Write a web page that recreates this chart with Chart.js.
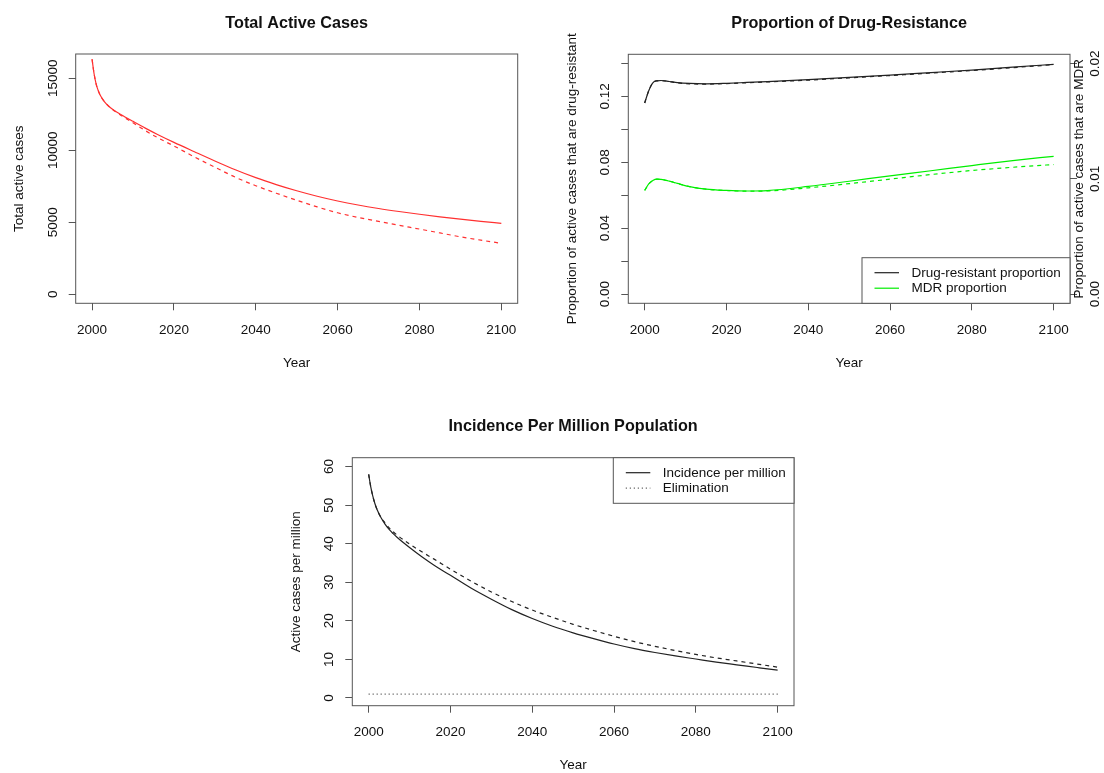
<!DOCTYPE html>
<html>
<head>
<meta charset="utf-8">
<title>TB projections</title>
<script src="https://cdn.jsdelivr.net/npm/chart.js@4/dist/chart.umd.min.js"></script>
<style>
  html, body { margin: 0; padding: 0; background: #ffffff; }
  #wrap { position: relative; width: 1104px; height: 773px; overflow: hidden; background: #fff; }
  canvas { position: absolute; }
</style>
</head>
<body>
<div id="wrap">
  <canvas id="cases" width="552" height="386" style="left:0px;top:0px"></canvas>
  <canvas id="prop" width="552" height="386" style="left:552px;top:0px"></canvas>
  <canvas id="incid" width="552" height="387" style="left:276px;top:386px"></canvas>
</div>
<script>
// ---- shared x axis ----
const yearTicks = [2000, 2020, 2040, 2060, 2080, 2100];

// ---- Total active cases (solid = baseline, dashed = alternative scenario) ----
const yearsCases = [2000, 2000.5, 2001, 2001.5, 2002, 2003, 2004, 2005, 2006, 2007, 2010, 2013, 2016, 2020, 2025, 2030, 2035,
                    2040, 2045, 2050, 2055, 2060, 2065, 2070, 2075, 2080, 2085, 2090, 2095, 2100];
const casesBase = [16320, 15300, 14600, 14150, 13820, 13380, 13080, 12850, 12660, 12490, 12010, 11540, 11100, 10550, 9900, 9260, 8650,
                   8100, 7620, 7190, 6810, 6480, 6200, 5960, 5750, 5560, 5380, 5220, 5070, 4930];
const casesAlt  = [16320, 15300, 14600, 14150, 13820, 13380, 13080, 12840, 12630, 12440, 11910, 11370, 10880, 10300, 9540, 8830, 8130,
                   7540, 7020, 6530, 6070, 5660, 5340, 5060, 4790, 4530, 4260, 3990, 3760, 3540];
const casesTicks = [0, 5000, 10000, 15000];
const casesTickLabels = ['0', '5000', '10000', '15000'];

// ---- Drug resistance proportions ----
const yearsProp = [2000, 2001, 2002, 2003, 2004, 2006, 2008, 2011, 2015, 2020, 2025, 2030,
                   2040, 2050, 2060, 2070, 2080, 2090, 2100];
const drBase  = [0.1160, 0.1235, 0.1283, 0.1295, 0.1297, 0.1291, 0.1284, 0.1279, 0.1277, 0.1280, 0.1285, 0.1290,
                 0.1302, 0.1316, 0.1330, 0.1345, 0.1360, 0.1378, 0.1395];
const drAlt   = [0.1160, 0.1235, 0.1283, 0.1295, 0.1297, 0.1291, 0.1283, 0.1277, 0.1275, 0.1278, 0.1283, 0.1288,
                 0.1299, 0.1313, 0.1327, 0.1342, 0.1357, 0.1375, 0.1393];
const mdrBase = [0.00899, 0.00955, 0.00985, 0.00997, 0.00995, 0.00980, 0.00960, 0.00932, 0.00910, 0.00899, 0.00894, 0.00898,
                 0.00934, 0.00979, 0.01026, 0.01070, 0.01115, 0.01158, 0.01195];
const mdrAlt  = [0.00899, 0.00955, 0.00985, 0.00997, 0.00995, 0.00980, 0.00960, 0.00932, 0.00910, 0.00899, 0.00893, 0.00895,
                 0.00922, 0.00958, 0.00997, 0.01037, 0.01072, 0.01100, 0.01124];
const drTicks = [0, 0.02, 0.04, 0.06, 0.08, 0.10, 0.12, 0.14];
const drTickLabels = ['0.00', '', '0.04', '', '0.08', '', '0.12', ''];
const mdrTicks = [0, 0.01, 0.02];
const mdrTickLabels = ['0.00', '0.01', '0.02'];

// ---- Incidence per million ----
const yearsInc = [2000, 2000.5, 2001, 2001.5, 2002, 2003, 2004, 2005, 2006, 2007, 2010, 2013, 2016, 2020, 2025, 2030, 2035,
                  2040, 2045, 2050, 2055, 2060, 2065, 2070, 2075, 2080, 2085, 2090, 2095, 2100];
const incBase = [58.0, 54.8, 52.4, 50.5, 49.0, 46.8, 45.1, 43.7, 42.6, 41.6, 39.0, 36.6, 34.4, 31.8, 28.5, 25.6, 22.9,
                 20.6, 18.6, 16.9, 15.4, 14.0, 12.8, 11.8, 10.9, 10.1, 9.3, 8.6, 7.9, 7.2];
const incAlt  = [58.0, 54.8, 52.4, 50.5, 49.0, 46.8, 45.4, 44.1, 43.1, 42.2, 39.9, 37.9, 36.0, 33.4, 30.3, 27.5, 25.0,
                 22.8, 20.9, 19.1, 17.5, 16.0, 14.6, 13.4, 12.3, 11.3, 10.4, 9.6, 8.8, 8.0];
const elimYears = [2000, 2100];
const elimLevel = [1, 1];
const incTicks = [0, 10, 20, 30, 40, 50, 60];
const incTickLabels = ['0', '10', '20', '30', '40', '50', '60'];

// ---- styling ----
const FONT = '"Liberation Sans", Arial, Helvetica, sans-serif';
const TEXT = '#111111';
const FRAME = '#555555';
const DASH = [4, 4];
const DOT = [1, 3];

function pts(xs, ys) { return xs.map((x, i) => ({ x: x, y: ys[i] })); }

function line(label, xs, ys, color, dash, axis) {
  return {
    label: label,
    data: pts(xs, ys),
    borderColor: color,
    borderWidth: 1.2,
    borderDash: dash || [],
    pointRadius: 0,
    fill: false,
    cubicInterpolationMode: 'monotone',
    yAxisID: axis || 'y'
  };
}

function fixedTicks(values) {
  return function (scale) { scale.ticks = values.map(v => ({ value: v })); };
}

function tickGrid() {
  return { display: true, drawOnChartArea: false, drawTicks: true, tickLength: 7, color: FRAME, lineWidth: 1 };
}

function rotText(ctx, text, x, y) {
  ctx.save();
  ctx.translate(x, y);
  ctx.rotate(-Math.PI / 2);
  ctx.textAlign = 'center';
  ctx.textBaseline = 'alphabetic';
  ctx.fillText(text, 0, 0);
  ctx.restore();
}

// Base-graphics look: framed plot region, rotated y labels, boxed legend
const basePlot = {
  id: 'basePlot',
  afterDraw(chart, args, o) {
    const ctx = chart.ctx;
    const a = chart.chartArea;
    const cx = (a.left + a.right) / 2;
    const cy = (a.top + a.bottom) / 2;
    ctx.save();
    ctx.strokeStyle = FRAME;
    ctx.lineWidth = 1;
    ctx.setLineDash([]);
    ctx.strokeRect(a.left, a.top, a.right - a.left, a.bottom - a.top);

    ctx.fillStyle = TEXT;
    ctx.font = 'bold 16.2px ' + FONT;
    ctx.textAlign = 'center';
    ctx.textBaseline = 'alphabetic';
    ctx.fillText(o.title, cx, a.top - 26.5);

    ctx.font = '13.5px ' + FONT;
    const xs = chart.scales.x;
    xs.ticks.forEach(t => ctx.fillText(String(t.value), xs.getPixelForValue(t.value), a.bottom + 30.5));
    ctx.fillText(o.xTitle, cx, a.bottom + 63.7);

    const ys = chart.scales.y;
    ys.ticks.forEach((t, i) => {
      const lab = o.yLabels[i];
      if (lab) rotText(ctx, lab, a.left - 19, ys.getPixelForValue(t.value));
    });
    rotText(ctx, o.yTitle, a.left - 52.3, cy);

    if (o.y2Labels) {
      const y2 = chart.scales.y2;
      y2.ticks.forEach((t, i) => {
        const lab = o.y2Labels[i];
        if (lab) rotText(ctx, lab, a.right + 29, y2.getPixelForValue(t.value));
      });
      rotText(ctx, o.y2Title, a.right + 13, cy);
    }

    if (o.legend) {
      const L = o.legend;
      const x0 = a.right - L.width;
      const y0 = L.corner === 'top' ? a.top : a.bottom - L.height;
      ctx.fillStyle = '#ffffff';
      ctx.fillRect(x0, y0, L.width, L.height);
      ctx.strokeStyle = FRAME;
      ctx.strokeRect(x0, y0, L.width, L.height);
      L.items.forEach((idx, k) => {
        const ds = chart.data.datasets[idx];
        const yy = y0 + 15 + k * 15.5;
        ctx.save();
        ctx.strokeStyle = ds.borderColor;
        ctx.lineWidth = 1.2;
        ctx.setLineDash(ds.borderDash || []);
        ctx.beginPath();
        ctx.moveTo(x0 + 12.5, yy);
        ctx.lineTo(x0 + 37, yy);
        ctx.stroke();
        ctx.restore();
        ctx.fillStyle = TEXT;
        ctx.textAlign = 'left';
        ctx.textBaseline = 'middle';
        ctx.fillText(ds.label, x0 + 49.5, yy + 0.5);
      });
    }
    ctx.restore();
  }
};

function makeChart(id, datasets, cfg) {
  const scales = {
    x: {
      type: 'linear', min: 1996, max: 2104,
      afterBuildTicks: fixedTicks(yearTicks),
      afterFit: s => { s.height = cfg.bottom; },
      ticks: { display: false },
      grid: tickGrid(),
      border: { display: false }
    },
    y: {
      type: 'linear', position: 'left', min: cfg.yMin, max: cfg.yMax,
      afterBuildTicks: fixedTicks(cfg.yTicks),
      afterFit: s => { s.width = cfg.left; },
      ticks: { display: false },
      grid: tickGrid(),
      border: { display: false }
    }
  };
  if (cfg.y2Ticks) {
    scales.y2 = {
      type: 'linear', position: 'right', min: cfg.y2Min, max: cfg.y2Max,
      afterBuildTicks: fixedTicks(cfg.y2Ticks),
      afterFit: s => { s.width = cfg.right; },
      ticks: { display: false },
      grid: tickGrid(),
      border: { display: false }
    };
  }
  return new Chart(document.getElementById(id), {
    type: 'line',
    data: { datasets: datasets },
    options: {
      responsive: false,
      animation: false,
      devicePixelRatio: 1,
      layout: { padding: { top: cfg.top, right: cfg.y2Ticks ? 0 : cfg.right, left: 0, bottom: 0 } },
      scales: scales,
      plugins: {
        legend: { display: false },
        title: { display: false },
        tooltip: { enabled: false },
        basePlot: cfg.text
      }
    },
    plugins: [basePlot]
  });
}

makeChart('cases', [
  line('Baseline', yearsCases, casesBase, '#ff3030'),
  line('Scenario', yearsCases, casesAlt, '#ff3030', DASH)
], {
  top: 54, left: 75.7, right: 34.3, bottom: 82.7,
  yMin: -625, yMax: 16687, yTicks: casesTicks,
  text: { title: 'Total Active Cases', xTitle: 'Year', yTitle: 'Total active cases', yLabels: casesTickLabels }
});

makeChart('prop', [
  line('Drug-resistant proportion', yearsProp, drBase, '#222222'),
  line('Drug-resistant proportion (scenario)', yearsProp, drAlt, '#222222', DASH),
  line('MDR proportion', yearsProp, mdrBase, '#00ee00', [], 'y2'),
  line('MDR proportion (scenario)', yearsProp, mdrAlt, '#00ee00', DASH, 'y2')
], {
  top: 54.3, left: 76.3, right: 34, bottom: 82.7,
  yMin: -0.0056, yMax: 0.1456, yTicks: drTicks,
  y2Min: -0.0008, y2Max: 0.0208, y2Ticks: mdrTicks,
  text: {
    title: 'Proportion of Drug-Resistance', xTitle: 'Year',
    yTitle: 'Proportion of active cases that are drug-resistant', yLabels: drTickLabels,
    y2Title: 'Proportion of active cases that are MDR', y2Labels: mdrTickLabels,
    legend: { corner: 'bottom', width: 208, height: 45.6, items: [0, 2] }
  }
});

makeChart('incid', [
  line('Incidence per million', yearsInc, incBase, '#222222'),
  line('Incidence per million (scenario)', yearsInc, incAlt, '#222222', DASH),
  line('Elimination', elimYears, elimLevel, '#444444', DOT)
], {
  top: 71.7, left: 76.3, right: 34, bottom: 67.3,
  yMin: -2.0, yMax: 62.3, yTicks: incTicks,
  text: {
    title: 'Incidence Per Million Population', xTitle: 'Year',
    yTitle: 'Active cases per million', yLabels: incTickLabels,
    legend: { corner: 'top', width: 180.7, height: 45.6, items: [0, 2] }
  }
});
</script>
</body>
</html>
